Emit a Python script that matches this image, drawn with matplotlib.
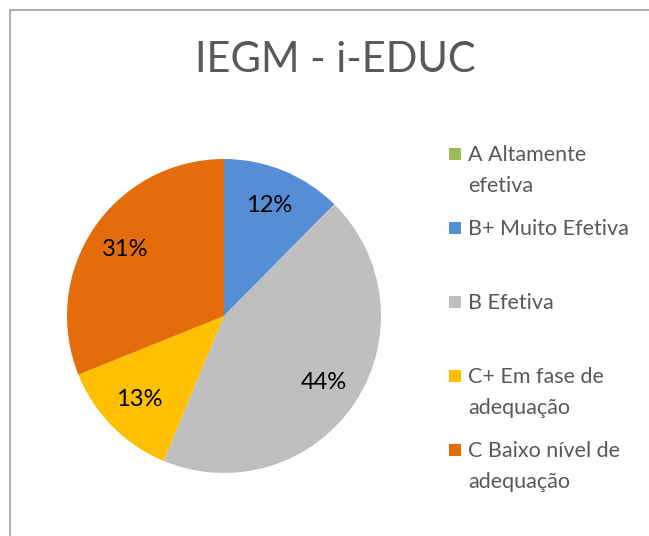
import matplotlib.pyplot as plt
from matplotlib.patches import Rectangle

categorias = ['A Altamente\nefetiva', 'B+ Muito Efetiva', 'B Efetiva',
              'C+ Em fase de\nadequação', 'C Baixo nível de\nadequação']
valores = [0.0, 12.4, 43.9, 12.6, 31.1]
cores = ['#9BBB59', '#558ED5', '#BFBFBF', '#FFC000', '#E46C0A']

plt.rcParams['font.family'] = ['Lato', 'DejaVu Sans']

W, H = 649, 536
fig = plt.figure(figsize=(W / 100, H / 100), dpi=100)

# moldura do grafico (cortada a direita e embaixo)
fig.patches.append(Rectangle((10 / W, -0.1), 1.2, 1.1 - 10 / H,
                             transform=fig.transFigure, fill=False,
                             edgecolor='#A6A6A6', linewidth=1.3))

fig.text(335 / W, 1 - 60 / H, 'IEGM - i-EDUC', ha='center', va='center',
         fontsize=30, color='#595959')

ax = fig.add_axes([67 / W, 63 / H, 314 / W, 314 / H])
ax.pie(valores, colors=cores, startangle=90, counterclock=False,
       autopct=lambda p: f'{p:.0f}%' if p > 0 else '', pctdistance=0.76,
       wedgeprops={'linewidth': 0}, textprops={'fontsize': 17, 'color': 'black'})
ax.set_xlim(-1, 1)
ax.set_ylim(-1, 1)
ax.set_aspect('equal')

# legenda
for i, (cat, cor) in enumerate(zip(categorias, cores)):
    y = 154 + 74 * i
    fig.patches.append(Rectangle((449 / W, 1 - (y + 6) / H), 12 / W, 12 / H,
                                 transform=fig.transFigure, facecolor=cor,
                                 edgecolor='none'))
    fig.text(468 / W, 1 - (y - 9) / H, cat, ha='left', va='top',
             fontsize=15.5, color='#595959', linespacing=1.7)

fig.savefig('out.png', dpi=100)
